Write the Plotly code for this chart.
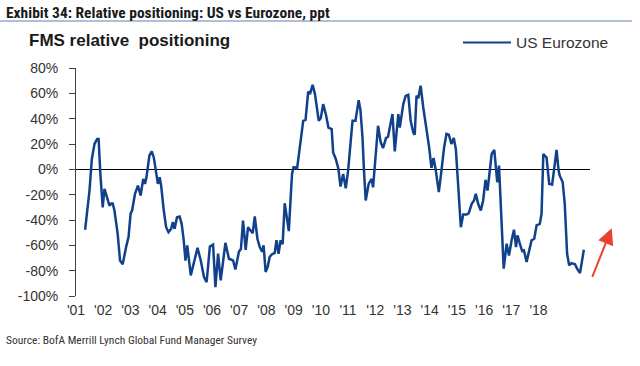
import plotly.graph_objects as go

# ---- data ----
dates = [2001.01, 2001.16, 2001.24, 2001.33, 2001.42, 2001.47, 2001.53, 2001.61, 2001.67, 2001.78,
         2001.84, 2001.90, 2001.95, 2002.01, 2002.12, 2002.20, 2002.29, 2002.41, 2002.49, 2002.56,
         2002.61, 2002.71, 2002.81, 2002.90, 2002.99, 2003.05, 2003.10, 2003.20, 2003.28, 2003.35,
         2003.43, 2003.49, 2003.55, 2003.60, 2003.69, 2003.77, 2003.85, 2003.94, 2004.00, 2004.06,
         2004.14, 2004.23, 2004.30, 2004.37, 2004.43, 2004.49, 2004.61, 2004.72, 2004.84, 2004.95,
         2005.06, 2005.15, 2005.26, 2005.37, 2005.45, 2005.54, 2005.63, 2005.79, 2005.91, 2006.05,
         2006.13, 2006.25, 2006.32, 2006.39, 2006.48, 2006.56, 2006.65, 2006.72, 2006.79, 2006.88,
         2006.96, 2007.04, 2007.09, 2007.16, 2007.23, 2007.30, 2007.38, 2007.47, 2007.53, 2007.60,
         2007.67, 2007.74, 2007.81, 2007.87, 2007.95, 2008.02, 2008.06, 2008.11, 2008.16, 2008.23,
         2008.33, 2008.44, 2008.52, 2008.61, 2008.67, 2008.76, 2008.84, 2008.89, 2008.97, 2009.04,
         2009.12, 2009.21, 2009.30, 2009.41, 2009.46, 2009.55, 2009.64, 2009.71, 2009.80, 2009.89,
         2009.97, 2010.03, 2010.12, 2010.22, 2010.33, 2010.39, 2010.46, 2010.51, 2010.57, 2010.67,
         2010.77, 2010.82, 2010.92, 2010.99, 2011.08, 2011.16, 2011.26, 2011.33, 2011.39, 2011.48,
         2011.56, 2011.68, 2011.73, 2011.85, 2011.93, 2012.02, 2012.10, 2012.19, 2012.24, 2012.30,
         2012.36, 2012.44, 2012.53, 2012.64, 2012.73, 2012.81, 2012.88, 2012.95, 2013.06, 2013.15,
         2013.24, 2013.32, 2013.40, 2013.49, 2013.57, 2013.64, 2013.72, 2013.81, 2013.89, 2014.01,
         2014.08, 2014.18, 2014.26, 2014.32, 2014.40, 2014.49, 2014.57, 2014.65, 2014.72, 2014.80,
         2014.86, 2014.95, 2015.00, 2015.05, 2015.11, 2015.17, 2015.27, 2015.37, 2015.45, 2015.54,
         2015.62, 2015.69, 2015.74, 2015.82, 2015.90, 2015.96, 2016.05, 2016.14, 2016.22, 2016.31,
         2016.39, 2016.50, 2016.56, 2016.62, 2016.73, 2016.82, 2016.92, 2016.99, 2017.07, 2017.14,
         2017.18, 2017.28, 2017.35, 2017.43, 2017.50, 2017.58, 2017.70, 2017.77, 2017.87, 2018.00]

us_vs_eurozone = [-47.7, -16.8, 8.2, 20.0, 24.0, 24.0, -3.6, -30.0, -15.4, -24.6,
                  -28.6, -27.0, -27.0, -32.5, -51.0, -72.0, -75.0, -61.0, -53.5, -35.0,
                  -32.5, -19.4, -12.8, -20.7, -7.6, -11.5, -6.3, 10.8, 14.2, 9.4,
                  -1.0, -11.5, -6.3, -12.8, -32.5, -45.7, -49.6, -47.0, -41.7, -47.0,
                  -37.8, -37.2, -43.0, -56.0, -72.0, -60.0, -83.7, -73.0, -62.0, -72.0,
                  -85.0, -89.0, -61.0, -59.5, -93.0, -66.6, -87.6, -58.0, -70.6, -72.0,
                  -79.0, -65.0, -62.7, -40.4, -63.5, -45.7, -48.8, -50.4, -37.2, -54.8,
                  -61.4, -65.0, -60.0, -81.0, -77.0, -69.0, -67.0, -66.0, -56.0, -66.6,
                  -56.0, -59.0, -26.8, -35.0, -48.8, -19.4, -3.6, 1.6, 1.6, 0.3,
                  17.3, 38.3, 39.0, 61.4, 59.4, 66.7, 59.4, 51.5, 38.3, 40.5,
                  51.5, 43.6, 33.0, 31.8, 13.4, 8.2, 0.3, -13.6, -3.6, -15.0,
                  -1.0, 14.7, 38.3, 38.3, 54.6, 46.8, 25.2, -1.0, -24.6, -11.5,
                  -7.6, -14.2, 17.3, 34.4, 21.3, 16.8, 24.7, 25.7, 33.0, 43.6,
                  14.2, 43.6, 33.0, 51.5, 58.0, 58.8, 38.3, 29.0, 27.3, 58.0,
                  56.2, 66.0, 48.8, 33.0, 17.3, 1.1, 9.0, 0.3, -18.0, -1.0,
                  17.3, 27.9, 27.3, 20.0, 24.7, 16.0, -14.2, -45.7, -35.7, -35.7,
                  -34.6, -27.2, -24.6, -19.4, -27.2, -32.5, -24.6, -8.3, -16.8, -1.0,
                  12.1, 15.3, -1.0, -10.2, 2.9, -24.6, -78.4, -58.7, -68.0, -56.0,
                  -47.7, -61.4, -52.2, -58.7, -64.6, -64.0, -73.2, -64.0, -56.0, -54.8,
                  -44.3, -43.0, -35.0, 12.1, 9.4, -11.5, -12.0, 0.3, 15.3, -1.0,
                  -5.0, -10.2, -27.2, -66.6, -75.8, -74.0, -75.0, -78.4, -81.9, -63.5]

x_tick_labels = ["'01", "'02", "'03", "'04", "'05", "'06", "'07", "'08", "'09",
                 "'10", "'11", "'12", "'13", "'14", "'15", "'16", "'17", "'18"]
y_tick_values = [80, 60, 40, 20, 0, -20, -40, -60, -80, -100]
y_tick_labels = ["80%", "60%", "40%", "20%", "0%", "-20%", "-40%", "-60%", "-80%", "-100%"]

series_name = "US Eurozone"
title_text = "Exhibit 34: Relative positioning: US vs Eurozone, ppt"
chart_title = "FMS relative\u00a0 positioning"
source_text = "Source: BofA Merrill Lynch Global Fund Manager Survey"

# ---- layout geometry ----
W, H = 640, 366
ML, MR, MT, MB = 76, 50, 68, 70
PW, PH = W - ML - MR, H - MT - MB

def px(x):
    return (x - ML) / PW

def py(y):
    return (H - MB - y) / PH

# the original places the year labels at a slightly compressed spacing
tick_start, tick_step = 2000.70, 0.9268
x_tick_pos = [tick_start + i * tick_step for i in range(len(x_tick_labels))]

LINE = "#10418a"
AXIS_FONT = "Liberation Sans, Arial, sans-serif"
NARROW = "Liberation Sans Narrow, Arial Narrow, Roboto Condensed, Liberation Sans, sans-serif"

fig = go.Figure()
fig.add_trace(go.Scatter(x=dates, y=us_vs_eurozone, mode="lines", name=series_name,
                         line=dict(color=LINE, width=2.5), showlegend=False))

fig.update_layout(
    width=W, height=H,
    margin=dict(l=ML, r=MR, t=MT, b=MB),
    paper_bgcolor="white", plot_bgcolor="white",
    xaxis=dict(range=[2000.70, 2018.21], showgrid=False, zeroline=False, showline=False,
               tickmode="array", tickvals=x_tick_pos, ticktext=x_tick_labels,
               ticks="", tickfont=dict(family=AXIS_FONT, size=14, color="#333333"),
               ticklabelstandoff=4),
    yaxis=dict(range=[-100, 80], showgrid=False, zeroline=True, zerolinecolor="#000000",
               zerolinewidth=1, showline=True, linecolor="#404040", linewidth=1,
               ticks="outside", ticklen=6, tickcolor="#404040",
               tickmode="array", tickvals=y_tick_values, ticktext=y_tick_labels,
               tickfont=dict(family=AXIS_FONT, size=14, color="#333333"),
               ticklabelstandoff=8),
)

# header underline
fig.add_shape(type="line", xref="paper", yref="paper",
              x0=px(0), x1=px(632), y0=py(21), y1=py(21),
              line=dict(color="#aebfd8", width=2))
# custom legend line
fig.add_shape(type="line", xref="paper", yref="paper",
              x0=px(463), x1=px(511), y0=py(42.5), y1=py(42.5),
              line=dict(color=LINE, width=2))

annotations = [
    dict(text="<b>" + title_text + "</b>", x=px(4), y=py(13), xanchor="left", yanchor="middle",
         font=dict(family=NARROW, size=15.5, color="#1a1a1a")),
    dict(text="<b>" + chart_title + "</b>", x=px(27), y=py(40.5), xanchor="left", yanchor="middle",
         font=dict(family=AXIS_FONT, size=17, color="#1a1a1a")),
    dict(text=series_name, x=px(514), y=py(42.5), xanchor="left", yanchor="middle",
         font=dict(family=AXIS_FONT, size=15.5, color="#333333")),
    dict(text=source_text, x=px(4), y=py(340), xanchor="left", yanchor="middle",
         font=dict(family=NARROW, size=11.5, color="#333333")),
    dict(text="", x=px(611.7), y=py(228.3), ax=-20, ay=50, showarrow=True,
         arrowhead=2, arrowsize=1.6, arrowwidth=2, arrowcolor="#e8432e"),
]
for a in annotations:
    a.setdefault("xref", "paper")
    a.setdefault("yref", "paper")
    a.setdefault("showarrow", False)
    fig.add_annotation(**a)

# remove the browser's default page margin so the figure sits at the window origin
fig.write_html("out.html", config={"displayModeBar": False},
               post_script="document.body.style.margin='0';")
